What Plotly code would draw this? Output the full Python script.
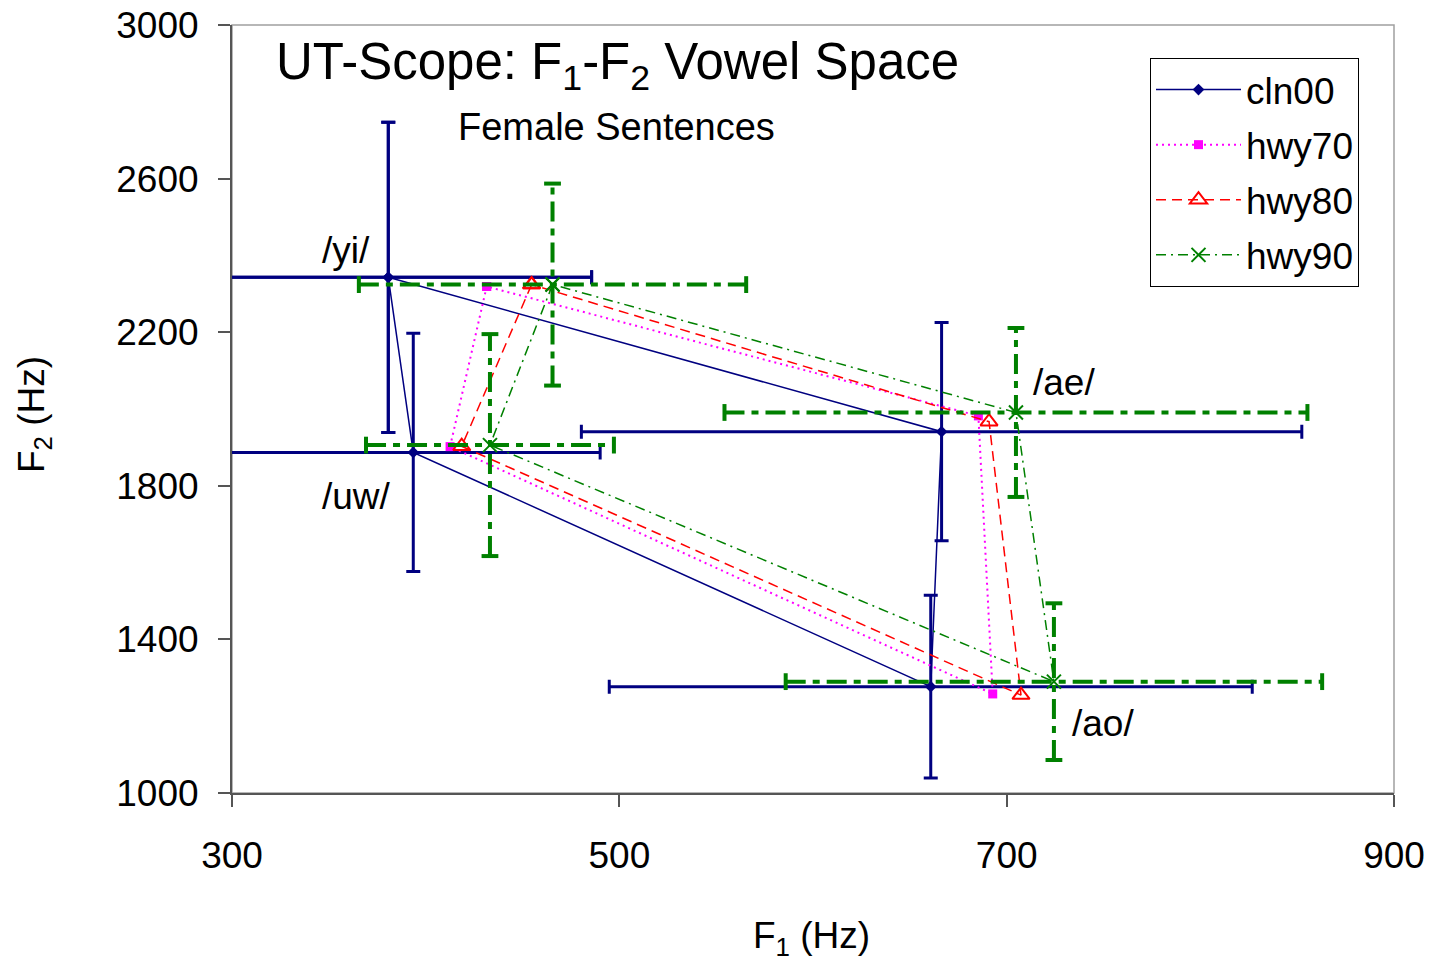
import plotly.graph_objects as go

# ---------------- data ----------------
vowels = ["/yi/", "/uw/", "/ao/", "/ae/"]

cln00_f1 = [380.7, 393.6, 660.8, 666.4]
cln00_f2 = [2343, 1887, 1277, 1941]
cln00_f1_err_plus = [105, 96.5, 166, 186]
cln00_f1_err_minus = [85, 96.5, 166, 186]
cln00_f2_err = [404, 310, 238, 284]

hwy70_f1 = [431.5, 412.6, 692.8, 685.4]
hwy70_f2 = [2319, 1902, 1258, 1982]

hwy80_f1 = [454.7, 418.6, 707.4, 690.9]
hwy80_f2 = [2324, 1903, 1255, 1967]

hwy90_f1 = [465.5, 433.2, 724.4, 704.8]
hwy90_f2 = [2324, 1906, 1290, 1991]
hwy90_f1_err = [100, 64, 138.5, 150.5]
hwy90_f2_err = [263, 289, 204, 220]

label_text = ["/yi/", "/uw/", "/ae/", "/ao/"]
label_f1 = [358.9, 364.5, 729.6, 749.7]
label_f2 = [2414, 1771, 2068, 1182]

x_ticks = [300, 500, 700, 900]
y_ticks = [1000, 1400, 1800, 2200, 2600, 3000]

FONT = "Liberation Sans, Arial, sans-serif"
NAVY = "#000080"
MAGENTA = "#FF00FF"
RED = "#FF0000"
GREEN = "#008000"


def closed(v):
    return list(v) + [v[0]]


fig = go.Figure()

# cln00 with native error bars
fig.add_trace(go.Scatter(
    x=closed(cln00_f1), y=closed(cln00_f2), name="cln00", legendgroup="a",
    mode="lines+markers",
    line=dict(color=NAVY, width=1.5),
    marker=dict(symbol="diamond", size=9, color=NAVY),
    error_x=dict(type="data", symmetric=False,
                 array=closed(cln00_f1_err_plus), arrayminus=closed(cln00_f1_err_minus),
                 color=NAVY, thickness=3, width=7),
    error_y=dict(type="data", array=closed(cln00_f2_err), color=NAVY, thickness=3, width=7),
    cliponaxis=False,
))

fig.add_trace(go.Scatter(
    x=closed(hwy70_f1), y=closed(hwy70_f2), name="hwy70", legendgroup="b",
    mode="lines+markers",
    line=dict(color=MAGENTA, width=2, dash="2px,4px"),
    marker=dict(symbol="square", size=9, color=MAGENTA),
    cliponaxis=False,
))

fig.add_trace(go.Scatter(
    x=closed(hwy80_f1), y=closed(hwy80_f2), name="hwy80", legendgroup="c",
    mode="lines+markers",
    line=dict(color=RED, width=1.5, dash="10px,6px"),
    marker=dict(symbol="triangle-up-open", size=15, color=RED, line=dict(width=2, color=RED)),
    cliponaxis=False,
))

# hwy90 dash-dot error bars built from the data
hx, hy, vx, vy = [], [], [], []
cap_h_x, cap_h_y, cap_v_x, cap_v_y = [], [], [], []
for x, y, ex, ey in zip(hwy90_f1, hwy90_f2, hwy90_f1_err, hwy90_f2_err):
    hx += [x - ex, x + ex, None]
    hy += [y, y, None]
    vx += [x, x, None]
    vy += [y - ey, y + ey, None]
    cap_h_x += [x - ex, x + ex]
    cap_h_y += [y, y]
    cap_v_x += [x, x]
    cap_v_y += [y - ey, y + ey]

eb_dash = "20px,7px,7px,7px"
fig.add_trace(go.Scatter(x=hx, y=hy, mode="lines", showlegend=False, hoverinfo="skip",
                         line=dict(color=GREEN, width=4, dash=eb_dash)))
fig.add_trace(go.Scatter(x=vx, y=vy, mode="lines", showlegend=False, hoverinfo="skip",
                         line=dict(color=GREEN, width=4, dash=eb_dash)))
fig.add_trace(go.Scatter(x=cap_h_x, y=cap_h_y, mode="markers", showlegend=False, hoverinfo="skip",
                         marker=dict(symbol="line-ns", size=12, line=dict(color=GREEN, width=4)),
                         cliponaxis=False))
fig.add_trace(go.Scatter(x=cap_v_x, y=cap_v_y, mode="markers", showlegend=False, hoverinfo="skip",
                         marker=dict(symbol="line-ew", size=12, line=dict(color=GREEN, width=4)),
                         cliponaxis=False))

fig.add_trace(go.Scatter(
    x=closed(hwy90_f1), y=closed(hwy90_f2), name="hwy90", legendgroup="d",
    mode="lines+markers",
    line=dict(color=GREEN, width=1.5, dash="10px,5px,2px,5px"),
    marker=dict(symbol="x-thin-open", size=14, color=GREEN, line=dict(width=2, color=GREEN)),
    cliponaxis=False,
))

# vowel labels
for t, x, y in zip(label_text, label_f1, label_f2):
    fig.add_annotation(x=x, y=y, xref="x", yref="y", text=t, showarrow=False,
                       font=dict(family=FONT, size=37, color="black"))

# titles
fig.add_annotation(xref="paper", yref="paper", x=0.036, y=0.947, xanchor="left", yanchor="middle",
                   text="UT-Scope: F<sub>1</sub>-F<sub>2</sub> Vowel Space", showarrow=False,
                   font=dict(family=FONT, size=51, color="black"))
fig.add_annotation(xref="paper", yref="paper", x=0.3313, y=0.867, xanchor="center", yanchor="middle",
                   text="Female Sentences", showarrow=False,
                   font=dict(family=FONT, size=38, color="black"))

# axis titles
fig.add_annotation(xref="paper", yref="paper", x=(811 - 232) / 1162, y=-(938 - 793) / 768,
                   xanchor="center", yanchor="middle", text="F<sub>1</sub> (Hz)", showarrow=False,
                   font=dict(family=FONT, size=37, color="black"))
fig.add_annotation(xref="paper", yref="paper", x=-(232 - 34) / 1162, y=1 - (415 - 25) / 768,
                   xanchor="center", yanchor="middle", text="F<sub>2</sub> (Hz)", showarrow=False,
                   textangle=-90, font=dict(family=FONT, size=37, color="black"))

# plot-area border (top/right)
fig.add_shape(type="rect", xref="paper", yref="paper", x0=0, y0=0, x1=1, y1=1,
              line=dict(color="#a0a0a0", width=1.5), layer="below")

fig.update_layout(
    width=1431, height=963,
    margin=dict(l=232, r=37, t=25, b=170, autoexpand=False),
    paper_bgcolor="white", plot_bgcolor="white",
    font=dict(family=FONT, size=37, color="black"),
    showlegend=True,
    legend=dict(
        x=(1150 - 232) / 1162, y=1 - (58 - 25) / 768, xanchor="left", yanchor="top",
        bordercolor="black", borderwidth=1, bgcolor="white",
        font=dict(family=FONT, size=37, color="black"),
        tracegroupgap=4, itemwidth=85,
    ),
    xaxis=dict(range=[300, 900], tickvals=x_ticks, ticktext=[str(v) for v in x_ticks],
               showgrid=False, zeroline=False, showline=True, linecolor="#555555", linewidth=2,
               ticks="outside", ticklen=12, tickwidth=1.5, tickcolor="#555555",
               automargin=False, ticklabeloverflow="allow",
               ticklabelstandoff=17, tickfont=dict(family=FONT, size=37, color="black")),
    yaxis=dict(range=[1000, 3000], tickvals=y_ticks, ticktext=[str(v) for v in y_ticks],
               showgrid=False, zeroline=False, showline=True, linecolor="#555555", linewidth=2,
               ticks="outside", ticklen=12, tickwidth=1.5, tickcolor="#555555",
               automargin=False, ticklabeloverflow="allow",
               ticklabelstandoff=12, tickfont=dict(family=FONT, size=37, color="black")),
)

fig.write_html("out.html")
